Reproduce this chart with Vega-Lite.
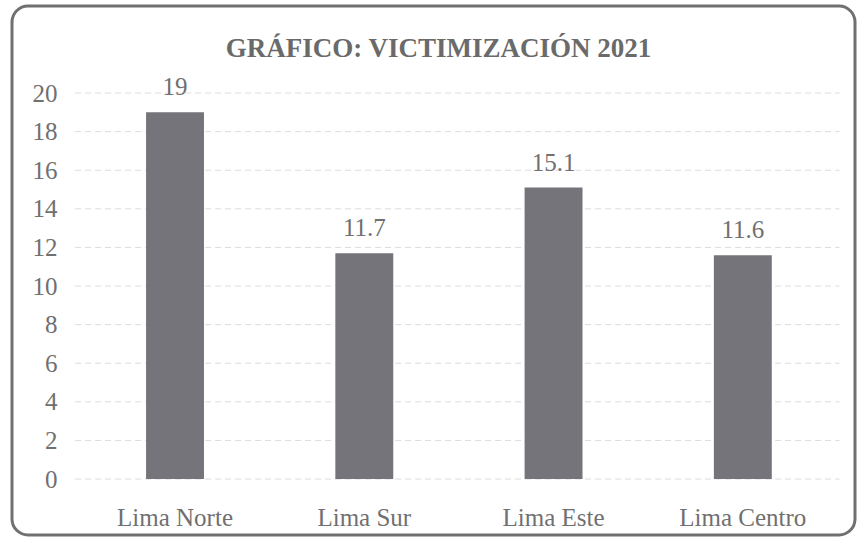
{
  "$schema": "https://vega.github.io/schema/vega-lite/v6.json",
  "width": 843,
  "height": 529,
  "autosize": {"type": "none"},
  "padding": {"left": 12, "top": 6, "right": 5, "bottom": 8},
  "background": "white",
  "config": {
    "view": {"stroke": "#707070", "strokeWidth": 3, "cornerRadius": 16},
    "font": "Liberation Serif"
  },
  "title": {
    "text": "GRÁFICO: VICTIMIZACIÓN 2021",
    "font": "Liberation Serif",
    "fontSize": 27,
    "fontWeight": "bold",
    "color": "#6a6a6a",
    "offset": -57,
    "anchor": "middle",
    "frame": "group",
    "dx": 5
  },
  "datasets": {
    "bars": [
      {"zona": "Lima Norte", "valor": 19},
      {"zona": "Lima Sur", "valor": 11.7},
      {"zona": "Lima Este", "valor": 15.1},
      {"zona": "Lima Centro", "valor": 11.6}
    ],
    "grid": [
      {"v": 0}, {"v": 2}, {"v": 4}, {"v": 6}, {"v": 8}, {"v": 10},
      {"v": 12}, {"v": 14}, {"v": 16}, {"v": 18}, {"v": 20}
    ]
  },
  "layer": [
    {
      "data": {"name": "grid"},
      "mark": {"type": "rule", "color": "#dcdcdc", "strokeDash": [6, 4], "strokeWidth": 1},
      "encoding": {
        "x": {"datum": "Lima Norte", "type": "nominal", "bandPosition": -1.224},
        "x2": {"datum": "Lima Centro", "bandPosition": 2.17},
        "y": {"field": "v", "type": "quantitative"}
      }
    },
    {
      "data": {"name": "bars"},
      "mark": {"type": "bar", "color": "#75747a"},
      "encoding": {
        "x": {
          "field": "zona",
          "type": "nominal",
          "scale": {
            "domain": ["Lima Norte", "Lima Sur", "Lima Este", "Lima Centro"],
            "paddingInner": 0.694,
            "paddingOuter": 0.574,
            "align": 0.617
          },
          "axis": {
            "title": null,
            "domain": false,
            "ticks": false,
            "labelPadding": 0,
            "offset": -18,
            "labelAngle": 0,
            "labelAlign": "center",
            "labelFontSize": 25,
            "labelColor": "#707070",
            "labelFont": "Liberation Serif"
          }
        },
        "y": {
          "field": "valor",
          "type": "quantitative",
          "scale": {"domain": [-2.9, 24.51], "nice": false, "zero": false},
          "axis": {
            "title": null,
            "values": [0, 2, 4, 6, 8, 10, 12, 14, 16, 18, 20],
            "grid": false,
            "domain": false,
            "ticks": false,
            "labelPadding": 0,
            "offset": -45,
            "labelFontSize": 25,
            "labelColor": "#707070",
            "labelFont": "Liberation Serif"
          }
        },
        "y2": {"datum": 0}
      }
    },
    {
      "data": {"name": "bars"},
      "mark": {"type": "text", "baseline": "bottom", "dy": -12, "fontSize": 25, "color": "#707070", "font": "Liberation Serif"},
      "encoding": {
        "x": {"field": "zona", "type": "nominal"},
        "y": {"field": "valor", "type": "quantitative"},
        "text": {"field": "valor", "type": "quantitative"}
      }
    }
  ]
}
